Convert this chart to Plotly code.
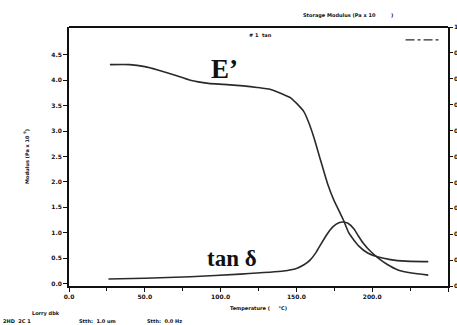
import plotly.graph_objects as go

# E' storage modulus (Pa x 10^9) vs temperature (°C) - left axis
temp_E = [27, 40, 50, 58, 70, 80, 92, 102, 115, 124, 133, 141.5, 146, 150, 155, 158, 161.5, 166, 170.5, 175, 177, 181, 184.5, 188, 191, 197, 204, 212, 222, 237]
mod_E = [4.31, 4.31, 4.27, 4.21, 4.10, 4.00, 3.94, 3.92, 3.89, 3.86, 3.82, 3.72, 3.66, 3.55, 3.38, 3.18, 2.88, 2.42, 1.97, 1.62, 1.50, 1.25, 1.00, 0.85, 0.74, 0.60, 0.52, 0.47, 0.44, 0.43]

# tan delta - right axis
temp_T = [26, 50, 80, 113, 141.5, 150, 155, 159, 163, 166, 170, 174, 178, 181, 184, 188, 191, 194, 199, 204, 210, 217, 226, 237]
tan_T = [0.027, 0.030, 0.036, 0.046, 0.058, 0.068, 0.082, 0.100, 0.130, 0.160, 0.198, 0.228, 0.244, 0.247, 0.242, 0.220, 0.192, 0.166, 0.133, 0.108, 0.083, 0.062, 0.050, 0.042]

left_ticks = [0.0, 0.5, 1.0, 1.5, 2.0, 2.5, 3.0, 3.5, 4.0, 4.5]
right_ticks = [0.0, 0.1, 0.2, 0.3, 0.4, 0.5, 0.6, 0.7, 0.8, 0.9, 1.0]
x_ticks = [0, 50, 100, 150, 200, 250]

ink = "#2a2a2a"
tickfont = dict(family="DejaVu Sans", size=6, color="#111", weight="bold")
smallfont = dict(family="DejaVu Sans", size=5, color="#111", weight="bold")

fig = go.Figure()
fig.add_trace(go.Scatter(x=temp_E, y=mod_E, mode="lines", line=dict(color=ink, width=1.6, shape="spline", smoothing=0.5), yaxis="y", showlegend=False))
fig.add_trace(go.Scatter(x=temp_T, y=tan_T, mode="lines", line=dict(color=ink, width=1.6, shape="spline", smoothing=0.5), yaxis="y2", showlegend=False))

H = 325 - 27 - 39
W = 457 - 69 - 9
def px(x, y):
    return (x - 69) / W, (325 - 39 - y) / H

annotations = [
    dict(text="<b>E’</b>", x=0.41, y=0.905, xref="paper", yref="paper", showarrow=False,
         font=dict(family="Liberation Serif", size=27, color="#111")),
    dict(text="<b>tan δ</b>", x=0.43, y=0.05, xref="paper", yref="paper", showarrow=False,
         font=dict(family="Liberation Serif", size=23, color="#111")),
    dict(text="Storage Modulus (Pa x 10         )", x=0.86, y=1.025, xref="paper", yref="paper", showarrow=False,
         font=smallfont, xanchor="right", yanchor="bottom"),
    dict(text="# 1  tan", x=0.505, y=0.99, xref="paper", yref="paper", showarrow=False,
         font=smallfont, xanchor="center", yanchor="top"),
]
for txt, x, y in [("Lorry dbk", 30, 313), ("2HD  2C 1", 1, 321), ("Stth:  1.0 um", 77, 321), ("Stth:  0.0 Hz", 145, 321)]:
    xp, yp = px(x, y)
    annotations.append(dict(text=txt, x=xp, y=yp, xref="paper", yref="paper", showarrow=False,
                            font=smallfont, xanchor="left", yanchor="middle"))

fig.update_layout(
    width=457, height=325,
    margin=dict(l=69, r=9, t=27, b=39, autoexpand=False),
    paper_bgcolor="white", plot_bgcolor="white",
    xaxis=dict(range=[0, 250], tickvals=x_ticks, ticktext=[f"{v:.1f}" for v in x_ticks],
               ticks="outside", ticklen=4, tickwidth=1.2, tickcolor="#111",
               minor=dict(dtick=25, ticks="outside", ticklen=3, tickcolor="#111"),
               showline=True, linecolor="#111", linewidth=1.8,
               showgrid=False, zeroline=False, tickfont=tickfont,
               title=dict(text="Temperature (     °C)", font=smallfont, standoff=7)),
    yaxis=dict(range=[-0.05, 5.05], tickvals=left_ticks, ticktext=[f"{v:.1f}" for v in left_ticks],
               ticks="outside", ticklen=4, tickwidth=1.2, tickcolor="#111",
               showline=True, linecolor="#111", linewidth=1.8,
               showgrid=False, zeroline=False, tickfont=tickfont,
               title=dict(text="Modulus (Pa x 10 <sup>9</sup>)", font=smallfont, standoff=22)),
    yaxis2=dict(range=[0, 1.0], overlaying="y", side="right", tickvals=right_ticks,
                ticktext=[f"{v:.1f}" for v in right_ticks],
                ticks="outside", ticklen=3, tickwidth=1.2, tickcolor="#111",
                showline=True, linecolor="#111", linewidth=1.8,
                showgrid=False, zeroline=False, tickfont=tickfont),
    shapes=[
        dict(type="line", xref="paper", yref="paper", x0=0, x1=1, y0=1, y1=1, line=dict(color="#111", width=1.8)),
        dict(type="line", xref="paper", yref="paper", x0=0.888, x1=0.975, y0=0.95, y1=0.95, line=dict(color=ink, width=1.3, dash="dashdot")),
    ],
    annotations=annotations,
)

fig.write_html("out.html")
